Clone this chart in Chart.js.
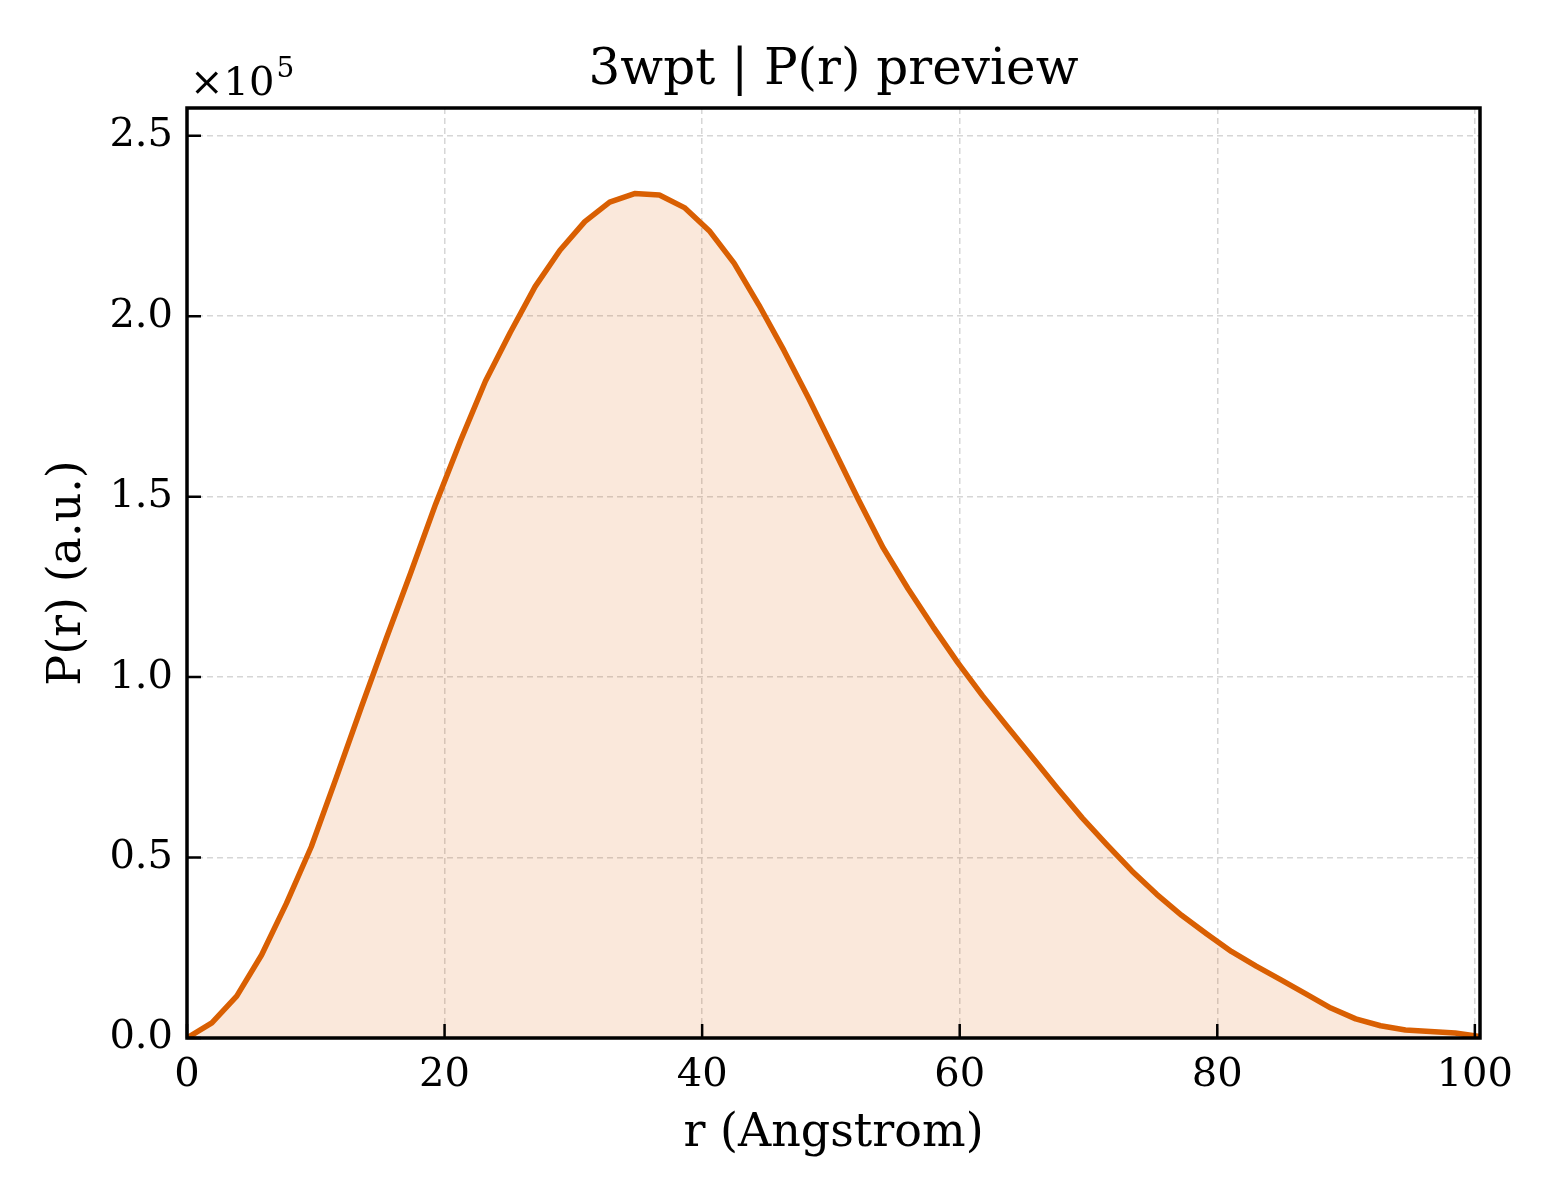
<!DOCTYPE html>
<html>
<head>
<meta charset="utf-8">
<title>3wpt | P(r) preview</title>
<script src="https://cdn.jsdelivr.net/npm/chart.js@4/dist/chart.umd.min.js"></script>
<style>
  html, body { margin: 0; padding: 0; background: #fff; }
  #chartPr { display: block; }
</style>
</head>
<body>
<canvas id="chartPr" width="1560" height="1200" style="width:1560px;height:1200px"></canvas>
<script>
// distance axis (Angstrom)
var rValues = [
    0, 1.93, 3.86, 5.79, 7.72, 9.65, 11.58, 13.52, 15.45, 17.38,
    19.31, 21.24, 23.17, 25.10, 27.03, 28.96, 30.89, 32.82, 34.75, 36.68,
    38.62, 40.55, 42.48, 44.41, 46.34, 48.27, 50.20, 52.13, 54.06, 55.99,
    57.92, 59.85, 61.78, 63.72, 65.65, 67.58, 69.51, 71.44, 73.37, 75.30,
    77.23, 79.16, 81.09, 83.02, 84.95, 86.88, 88.82, 90.75, 92.68, 94.61,
    96.54, 98.47, 100.40
];

// P(r), arbitrary units
var prValues = [
    0, 4200, 11600, 23000, 37300, 53000, 72000, 91500, 110500, 129000,
    148000, 165500, 182000, 195500, 208200, 218300, 226200, 231600, 234000, 233600,
    230100, 223700, 214700, 203100, 190600, 177300, 163300, 149200, 135800, 124500,
    114000, 104000, 94800, 86200, 77700, 69200, 61000, 53500, 46300, 39800,
    34000, 28900, 24000, 19900, 16100, 12200, 8300, 5300, 3400, 2200,
    1800, 1400, 400
];

var yTicks = [0, 50000, 100000, 150000, 200000, 250000];
var xTicks = [0, 20, 40, 60, 80, 100];
var offsetExp = '5';

var titleText = '3wpt | P(r) preview';
var xLabel = 'r (Angstrom)';
var yLabel = 'P(r) (a.u.)';

var FONT = '"DejaVu Serif", "Liberation Serif", serif';
var lineColor = '#d95f02';

// inward ticks, black frame and the x10^5 offset label
var frameAndTicks = {
    id: 'frameAndTicks',
    afterDatasetsDraw: function (chart) {
        var ctx = chart.ctx;
        var a = chart.chartArea;
        var x = chart.scales.x;
        var y = chart.scales.y;
        ctx.save();
        ctx.strokeStyle = '#000';
        ctx.lineWidth = 2.5;
        ctx.beginPath();
        x.ticks.forEach(function (t) {
            var px = x.getPixelForValue(t.value);
            ctx.moveTo(px, a.bottom);
            ctx.lineTo(px, a.bottom - 14);
        });
        y.ticks.forEach(function (t) {
            var py = y.getPixelForValue(t.value);
            ctx.moveTo(a.left, py);
            ctx.lineTo(a.left + 14, py);
        });
        ctx.stroke();

        ctx.lineWidth = 3.5;
        ctx.strokeRect(a.left, a.top, a.right - a.left, a.bottom - a.top);

        ctx.fillStyle = '#000';
        ctx.textBaseline = 'alphabetic';
        ctx.textAlign = 'left';
        ctx.font = '40px ' + FONT;
        ctx.fillText('\u00d710', a.left + 3, a.top - 13);
        var w = ctx.measureText('\u00d710').width;
        ctx.font = '28px ' + FONT;
        ctx.fillText(offsetExp, a.left + 5 + w, a.top - 31);
        ctx.restore();
    }
};

Chart.defaults.font.family = FONT;
Chart.defaults.color = '#000';

var config = {
    type: 'line',
    data: {
        labels: rValues,
        datasets: [{
            label: 'P(r)',
            data: rValues.map(function (r, i) { return { x: r, y: prValues[i] }; }),
            borderColor: lineColor,
            backgroundColor: 'rgba(217, 95, 2, 0.14)',
            borderWidth: 5.5,
            borderJoinStyle: 'round',
            fill: 'origin',
            tension: 0,
            pointRadius: 0
        }]
    },
    options: {
        responsive: false,
        devicePixelRatio: 1,
        animation: false,
        layout: { padding: { top: 0, right: 80, bottom: 0, left: 0 } },
        plugins: {
            legend: { display: false },
            tooltip: { enabled: false },
            title: {
                display: true,
                fullSize: false,
                text: titleText,
                color: '#000',
                font: { size: 50, weight: 'normal', lineHeight: 1.2 },
                padding: { top: 41, bottom: 7 }
            }
        },
        scales: {
            x: {
                type: 'linear',
                min: 0,
                max: 100.4,
                afterFit: function (scale) { scale.height = 162; },
                afterBuildTicks: function (scale) {
                    scale.ticks = xTicks.map(function (v) { return { value: v }; });
                },
                ticks: {
                    font: { size: 40 },
                    padding: 14,
                    maxRotation: 0,
                    includeBounds: false
                },
                grid: { color: '#d6d6d6', lineWidth: 1.5, drawTicks: false },
                border: { display: false, dash: [6, 4] },
                title: {
                    display: true,
                    text: xLabel,
                    font: { size: 46, lineHeight: 1.2 },
                    padding: { top: 38, bottom: 38 }
                }
            },
            y: {
                type: 'linear',
                min: 0,
                max: 257700,
                afterFit: function (scale) { scale.width = 187; },
                afterBuildTicks: function (scale) {
                    scale.ticks = yTicks.map(function (v) { return { value: v }; });
                },
                ticks: {
                    font: { size: 40 },
                    padding: 14,
                    includeBounds: false,
                    callback: function (v) { return (v / 1e5).toFixed(1); }
                },
                grid: { color: '#d6d6d6', lineWidth: 1.5, drawTicks: false },
                border: { display: false, dash: [6, 4] },
                title: {
                    display: true,
                    text: yLabel,
                    font: { size: 46, lineHeight: 1.2 },
                    padding: { top: 40, bottom: 40 }
                }
            }
        }
    },
    plugins: [frameAndTicks]
};

var ctx = document.getElementById('chartPr');
var prChart = new Chart(ctx, config);
</script>
</body>
</html>
